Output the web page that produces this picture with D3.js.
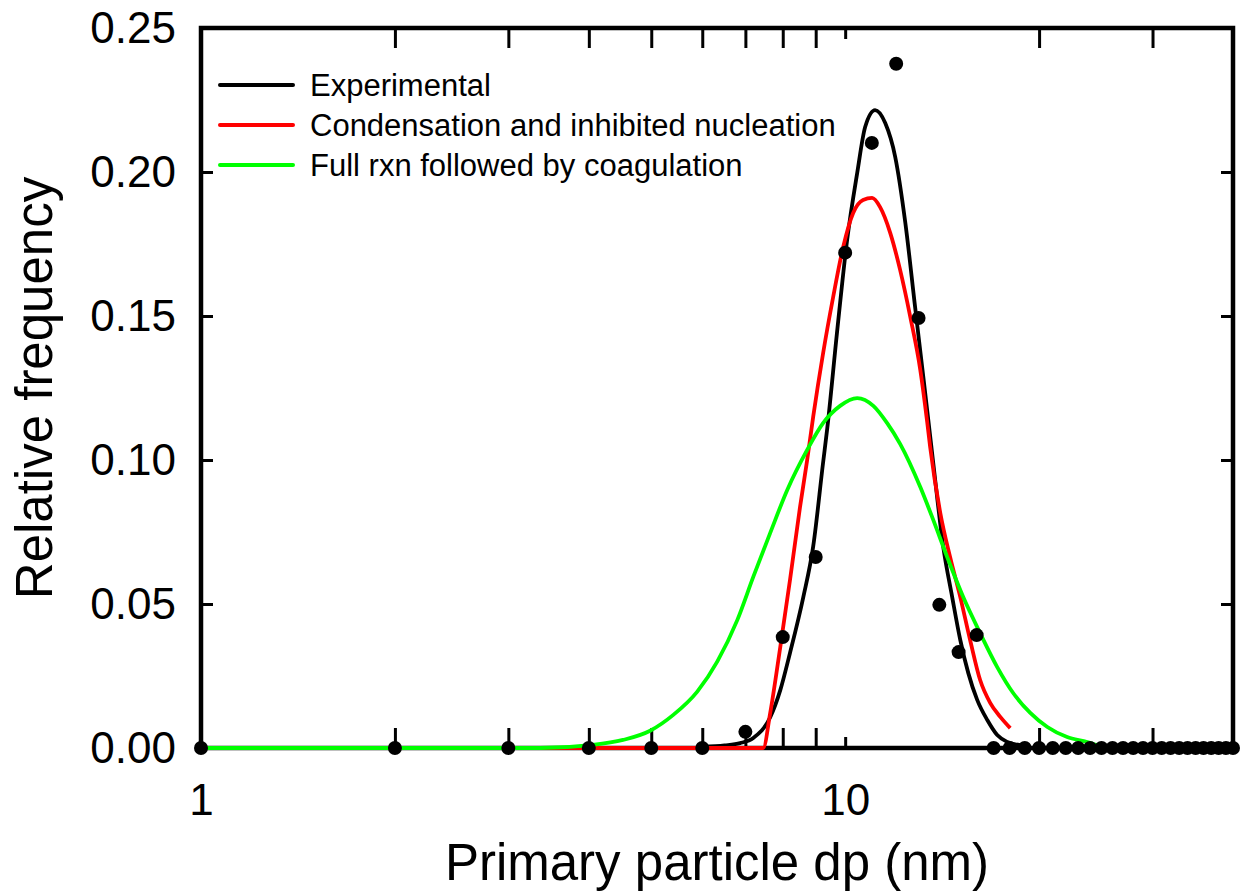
<!DOCTYPE html>
<html>
<head>
<meta charset="utf-8">
<script src="https://cdn.jsdelivr.net/npm/d3@7"></script>
<style>
  html, body { margin: 0; padding: 0; background: #ffffff; }
  svg { display: block; font-family: "Liberation Sans", Arial, sans-serif; }
</style>
</head>
<body>
<svg id="chart" width="1243" height="892"></svg>
<script>
// ---- data ----
const dotX = [1,2,3,4,5,6,7,8,9,10,11,12,13,14,15,16,17,18,19,20,21,22,23,24,25,26,27,28,29,30,31,32,33,34,35,36,37,38,39,40];
const dotY = [0,0,0,0,0,0,0.0056,0.0385,0.0663,0.1720,0.2101,0.2376,0.1493,0.0497,0.0333,0.0392,
              0,0,0,0,0,0,0,0,0,0,0,0,0,0,0,0,0,0,0,0,0,0,0,0];

const expX = [6.0, 6.5, 6.87, 7.2, 7.65, 7.93, 8.21, 8.61, 8.92, 9.24, 9.38, 9.71, 10.07, 10.44, 10.74, 11.13, 11.54, 11.96, 12.40, 12.84, 13.22, 13.46, 13.70, 14.20, 14.66, 15.09, 15.53, 16.03, 16.62, 17.22, 17.85, 18.70];
const expY = [0.0004, 0.0009, 0.0017, 0.0035, 0.0107, 0.0201, 0.0330, 0.0524, 0.0700, 0.0990, 0.1110, 0.1440, 0.1764, 0.1997, 0.2156, 0.2215, 0.2170, 0.2052, 0.1823, 0.1531, 0.1290, 0.1139, 0.0990, 0.0698, 0.0524, 0.0375, 0.0260, 0.0167, 0.0097, 0.0045, 0.0021, 0.0010];

const condX = [1, 7.46, 7.65, 7.93, 8.21, 8.51, 8.73, 8.92, 9.24, 9.58, 9.93, 10.29, 10.66, 11.01, 11.33, 11.75, 12.17, 12.62, 13.08, 13.41, 13.55, 14.05, 14.55, 15.09, 15.63, 16.20, 16.80, 17.41, 18.04];
const condY = [0, 0, 0.0122, 0.0351, 0.0583, 0.0837, 0.1000, 0.1150, 0.1370, 0.1566, 0.1740, 0.1858, 0.1903, 0.1910, 0.1878, 0.1788, 0.1660, 0.1497, 0.1313, 0.1130, 0.1045, 0.0816, 0.0663, 0.0524, 0.0375, 0.0236, 0.0156, 0.0108, 0.0069];

const fullX = [1, 3.36, 4.02, 4.52, 4.98, 5.41, 5.89, 6.33, 6.80, 7.20, 7.65, 8.13, 8.73, 9.24, 9.82, 10.44, 11.06, 11.62, 12.17, 13.08, 13.70, 14.40, 15.25, 16.20, 17.22, 18.23, 19.38, 20.60, 22.11, 23.76, 24.62];
const fullY = [0, 0, 0.0010, 0.0028, 0.0060, 0.0115, 0.0195, 0.0300, 0.0444, 0.0594, 0.0747, 0.0896, 0.1035, 0.1128, 0.1188, 0.1215, 0.1188, 0.1128, 0.1056, 0.0906, 0.0792, 0.0663, 0.0524, 0.0399, 0.0281, 0.0191, 0.0122, 0.0073, 0.0038, 0.0021, 0.0010];

const seriesNames = ["Experimental", "Condensation and inhibited nucleation", "Full rxn followed by coagulation"];
const seriesColors = ["#000000", "#ff0000", "#00ff00"];

const xTickValues = [1,2,3,4,5,6,7,8,9,10,20,30,40];
const xTickLabels = ["1","","","","","","","","","10","","",""];
const yTickValues = [0, 0.05, 0.10, 0.15, 0.20, 0.25];
const xTitle = "Primary particle dp (nm)";
const yTitle = "Relative frequency";

// ---- layout ----
const L = 201, R = 1233, T = 28, B = 748;
const svg = d3.select("#chart");

const xScale = d3.scaleLog().domain([1, 40]).range([L, R]);
const yScale = d3.scaleLinear().domain([0, 0.25]).range([B, T]);

// axes
const fontTick = 44;
const axBottom = svg.append("g").attr("transform", `translate(0,${B})`)
  .call(d3.axisBottom(xScale).tickValues(xTickValues).tickSizeInner(-20).tickSizeOuter(0).tickPadding(36)
    .tickFormat(d => xTickLabels[xTickValues.indexOf(d)]));
const axTop = svg.append("g").attr("transform", `translate(0,${T})`)
  .call(d3.axisTop(xScale).tickValues(xTickValues).tickSizeInner(-20).tickSizeOuter(0).tickFormat(""));
const axLeft = svg.append("g").attr("transform", `translate(${L},0)`)
  .call(d3.axisLeft(yScale).tickValues(yTickValues).tickSizeInner(-12).tickSizeOuter(0).tickPadding(25)
    .tickFormat(d3.format(".2f")));
const axRight = svg.append("g").attr("transform", `translate(${R},0)`)
  .call(d3.axisRight(yScale).tickValues(yTickValues).tickSizeInner(-12).tickSizeOuter(0).tickFormat(""));

[axBottom, axTop, axLeft, axRight].forEach(g => {
  g.select(".domain").remove();
  g.selectAll(".tick line").attr("stroke", "#000").attr("stroke-width", 3);
  g.selectAll(".tick text").attr("fill", "#000").attr("font-size", fontTick)
    .attr("font-family", "Liberation Sans, Arial, sans-serif");
});
// the decade tick at 10 is drawn short in the original
axBottom.selectAll(".tick").filter(d => d === 10).select("line").attr("y2", -11);
axTop.selectAll(".tick").filter(d => d === 10).select("line").attr("y2", 11);

// frame
svg.append("rect").attr("x", L).attr("y", T).attr("width", R - L).attr("height", B - T)
  .attr("fill", "none").attr("stroke", "#000").attr("stroke-width", 4.5);

// curves
const line = d3.line().x(d => xScale(d[0])).y(d => yScale(d[1])).curve(d3.curveMonotoneX);
const curves = [
  d3.zip(expX, expY),
  d3.zip(condX, condY),
  d3.zip(fullX, fullY)
];
svg.append("g").selectAll("path").data(curves).join("path")
  .attr("d", line)
  .attr("fill", "none")
  .attr("stroke", (d, i) => seriesColors[i])
  .attr("stroke-width", 3.8)
  .attr("stroke-linejoin", "round")
  .attr("stroke-linecap", "butt");

// data points
svg.append("g").selectAll("circle").data(d3.zip(dotX, dotY)).join("circle")
  .attr("cx", d => xScale(d[0])).attr("cy", d => yScale(d[1])).attr("r", 7).attr("fill", "#000");

// legend
const lg = svg.append("g");
seriesNames.forEach((name, i) => {
  const yy = 85 + i * 40;
  lg.append("line").attr("x1", 220).attr("x2", 293).attr("y1", yy).attr("y2", yy)
    .attr("stroke", seriesColors[i]).attr("stroke-width", 4).attr("stroke-linecap", "round");
  lg.append("text").attr("x", 310).attr("y", yy + 11).attr("font-size", 31).attr("fill", "#000")
    .text(name);
});

// axis titles
svg.append("text").attr("x", (L + R) / 2).attr("y", 880).attr("text-anchor", "middle")
  .attr("font-size", 51).attr("fill", "#000").text(xTitle);
svg.append("text").attr("transform", `translate(52,${(T + B) / 2}) rotate(-90)`)
  .attr("text-anchor", "middle").attr("font-size", 51).attr("fill", "#000").text(yTitle);
</script>
</body>
</html>
